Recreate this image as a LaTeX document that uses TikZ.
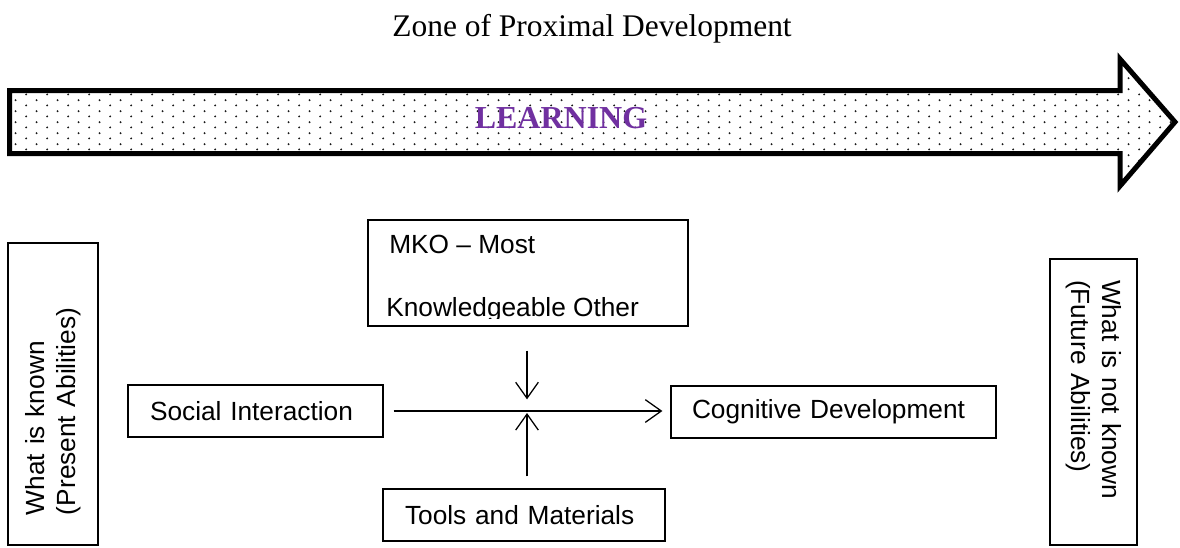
\documentclass[tikz,border=0pt]{standalone}
\usepackage{fontspec}
\setmainfont{Liberation Serif}
\newfontfamily\arialf{Liberation Sans}
\usetikzlibrary{arrows.meta,patterns}
\definecolor{learnpurple}{RGB}{112,48,160}
\pgfdeclarepatternformonly{zpddots}{\pgfqpoint{0pt}{0pt}}{\pgfqpoint{16pt}{8pt}}{\pgfqpoint{16pt}{8pt}}{%
  \pgfpathcircle{\pgfqpoint{4pt}{2pt}}{0.8pt}%
  \pgfpathcircle{\pgfqpoint{12pt}{6pt}}{0.8pt}%
  \pgfusepath{fill}}
\tikzset{
  box/.style={draw, line width=0.9pt, inner ysep=0pt, font=\arialf\fontsize{19.7pt}{23.25pt}\selectfont, align=left},
  sidebox/.style={box, inner ysep=0pt},
  conn/.style={line width=0.95pt, -{Straight Barb[length=12pt,width=17pt,line width=0.95pt]}},
  bigarrow/.style={draw, line width=3.75pt, miter limit=10, pattern=zpddots, pattern color=black!90}
}
\begin{document}
\begin{tikzpicture}[x=0.75pt,y=-0.75pt]
\useasboundingbox (0,0) rectangle (1180,547);
% title
\node[anchor=base, inner sep=0pt, font=\fontsize{23.6pt}{28pt}\selectfont] (title) at (592,36) {Zone of Proximal Development};
% big arrow
\path[bigarrow] (9.5,90.5) -- (1120,90.5) -- (1120,59) -- (1175,122) -- (1120,186) -- (1120,153.5) -- (9.5,153.5) -- cycle;
\node[anchor=base, inner sep=0pt, text=learnpurple, font=\bfseries\fontsize{24pt}{28pt}\selectfont] (learn) at (561,128) {LEARNING};
% side boxes
\node[sidebox, rotate=90, minimum width=226.5pt, minimum height=67.5pt, inner xsep=22.5pt, text width=181.5pt] (known) at (53,394) {What is known\\(Present Abilities)};
\node[sidebox, rotate=-90, minimum width=214.5pt, minimum height=65.25pt, inner xsep=15.75pt, text width=183pt] (notknown) at (1093.5,402) {What is not known\\(Future Abilities)};
% middle boxes
\node[box, minimum width=240pt, minimum height=79.5pt, inner sep=0pt] (MKO) at (528,273) {};
\begin{scope}
  \clip (368,220) rectangle (688,318);
  \node[anchor=base west, inner sep=0pt, font=\arialf\fontsize{19.7pt}{23.25pt}\selectfont] (mkoa) at (389,253) {MKO – Most};
  \node[anchor=base west, inner sep=0pt, font=\arialf\fontsize{19.7pt}{23.25pt}\selectfont] (mkob) at (386,316) {Knowledgeable Other};
\end{scope}
\node[box, minimum width=191.25pt, minimum height=39pt, inner xsep=16.5pt, text width=158.25pt] (social) at (255.5,411) {Social Interaction};
\node[box, minimum width=243.75pt, minimum height=39pt, inner xsep=15.75pt, text width=212.25pt] (cog) at (833.5,412) {Cognitive Development};
\node[box, minimum width=211.5pt, minimum height=39pt, inner xsep=16.5pt, text width=178.5pt] (tools) at (524,515) {Tools and Materials};
% connectors
\coordinate (j) at (527,412);
\draw[conn, shorten <=7.5pt, shorten >=6pt] (social.east) -- (cog.west |- social.east);
\draw[conn, shorten <=18pt, shorten >=9.5pt] (MKO.south -| j) -- (j);
\draw[conn, shorten <=9pt, shorten >=0.75pt] (tools.north -| j) -- (j);
\end{tikzpicture}
\end{document}
